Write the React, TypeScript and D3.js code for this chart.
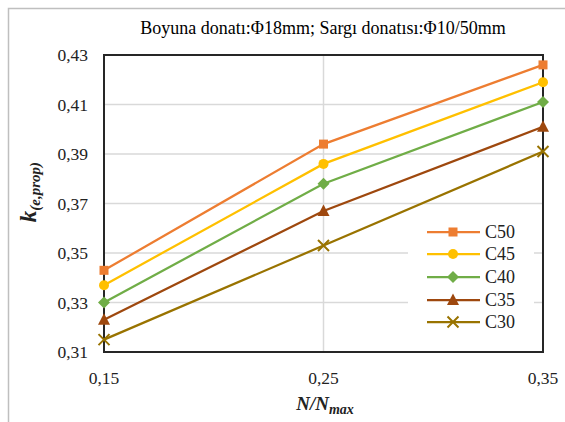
import React from "react";
import * as d3 from "d3";

const xValues = [0.15, 0.25, 0.35];
const xTickLabels = ["0,15", "0,25", "0,35"];
const yTicks = [0.31, 0.33, 0.35, 0.37, 0.39, 0.41, 0.43];
const seriesNames = ["C50", "C45", "C40", "C35", "C30"];
const seriesColors = ["#ED7D31", "#FFC000", "#70AD47", "#9E480E", "#997300"];
const seriesMarkers = ["square", "circle", "diamond", "triangle", "x"];
const c50 = [0.343, 0.394, 0.426];
const c45 = [0.337, 0.386, 0.419];
const c40 = [0.330, 0.378, 0.411];
const c35 = [0.323, 0.367, 0.401];
const c30 = [0.315, 0.353, 0.391];
const seriesValues = [c50, c45, c40, c35, c30];

const W = 565, H = 422;
const plot = { left: 104, right: 543, top: 55, bottom: 352 };
const SERIF = "'Liberation Serif', 'Times New Roman', serif";

function Marker({ type, x, y, color }: { type: string; x: number; y: number; color: string }) {
  if (type === "square") return <rect x={x - 4.5} y={y - 4.5} width={9} height={9} fill={color} />;
  if (type === "circle") return <circle cx={x} cy={y} r={5} fill={color} />;
  if (type === "diamond") return <path d={`M${x},${y - 6}L${x + 6},${y}L${x},${y + 6}L${x - 6},${y}Z`} fill={color} />;
  if (type === "triangle") return <path d={`M${x},${y - 6.5}L${x + 6},${y + 5}L${x - 6},${y + 5}Z`} fill={color} />;
  return (
    <path d={`M${x - 5.5},${y - 5.5}L${x + 5.5},${y + 5.5}M${x + 5.5},${y - 5.5}L${x - 5.5},${y + 5.5}`} stroke={color} strokeWidth={2} />
  );
}

export default function App() {
  const x = d3.scaleLinear().domain([0.15, 0.35]).range([plot.left, plot.right]);
  const y = d3.scaleLinear().domain([0.31, 0.43]).range([plot.bottom, plot.top]);
  const line = d3.line<number>().x((_, i) => x(xValues[i])).y((d) => y(d));
  const legend = { x: 408, y: 219, w: 126, h: 116 };
  const legendRowY = [232, 254, 277, 300, 322];
  const ts = { fontFamily: SERIF };

  return (
    <div style={{ position: "absolute", left: 0, top: 0, width: W, height: H, background: "#fff" }}>
      <svg width={W} height={H}>
        <rect x={8.5} y={8.5} width={W + 10} height={H + 10} fill="none" stroke="#bfbfbf" strokeWidth={1.5} />
        <text x={323} y={34} textAnchor="middle" fontSize={18} fill="#000" style={ts}>
          Boyuna donatı:Φ18mm; Sargı donatısı:Φ10/50mm
        </text>
        {yTicks.map((t) => (
          <line key={"gy" + t} x1={plot.left} x2={plot.right} y1={y(t)} y2={y(t)} stroke="#d9d9d9" strokeWidth={1.5} />
        ))}
        {xValues.map((t) => (
          <line key={"gx" + t} x1={x(t)} x2={x(t)} y1={plot.top} y2={plot.bottom} stroke="#d9d9d9" strokeWidth={1.5} />
        ))}
        <rect x={plot.left} y={plot.top} width={plot.right - plot.left} height={plot.bottom - plot.top} fill="none" stroke="#262626" strokeWidth={2} />
        {yTicks.map((t) => (
          <text key={"ty" + t} x={88} y={y(t) + 6} textAnchor="end" fontSize={17.5} fill="#222" style={ts}>
            {t.toFixed(2).replace(".", ",")}
          </text>
        ))}
        {xValues.map((t, i) => (
          <text key={"tx" + t} x={x(t)} y={384} textAnchor="middle" fontSize={17.5} fill="#222" style={ts}>
            {xTickLabels[i]}
          </text>
        ))}
        {seriesValues.map((vals, si) => (
          <g key={seriesNames[si]}>
            <path d={line(vals) || ""} fill="none" stroke={seriesColors[si]} strokeWidth={2.25} />
            {vals.map((v, i) => (
              <Marker key={i} type={seriesMarkers[si]} x={x(xValues[i])} y={y(v)} color={seriesColors[si]} />
            ))}
          </g>
        ))}
        <rect x={legend.x} y={legend.y} width={legend.w} height={legend.h} fill="#fff" />
        {seriesNames.map((n, si) => (
          <g key={"lg" + n}>
            <line x1={427} x2={480} y1={legendRowY[si]} y2={legendRowY[si]} stroke={seriesColors[si]} strokeWidth={2.25} />
            <Marker type={seriesMarkers[si]} x={453} y={legendRowY[si]} color={seriesColors[si]} />
            <text x={485} y={legendRowY[si] + 6} fontSize={18} fill="#222" style={ts}>{n}</text>
          </g>
        ))}
        <text transform="translate(36,192) rotate(-90)" textAnchor="middle" fontWeight="bold" fontStyle="italic" fill="#222" style={ts}>
          <tspan fontSize={23}>k</tspan>
          <tspan fontSize={15} dy={4}>(e,prop)</tspan>
        </text>
        <text x={325} y={410} textAnchor="middle" fontWeight="bold" fontStyle="italic" fill="#222" style={ts}>
          <tspan fontSize={19}>N/N</tspan>
          <tspan fontSize={14} dy={4}>max</tspan>
        </text>
      </svg>
    </div>
  );
}
